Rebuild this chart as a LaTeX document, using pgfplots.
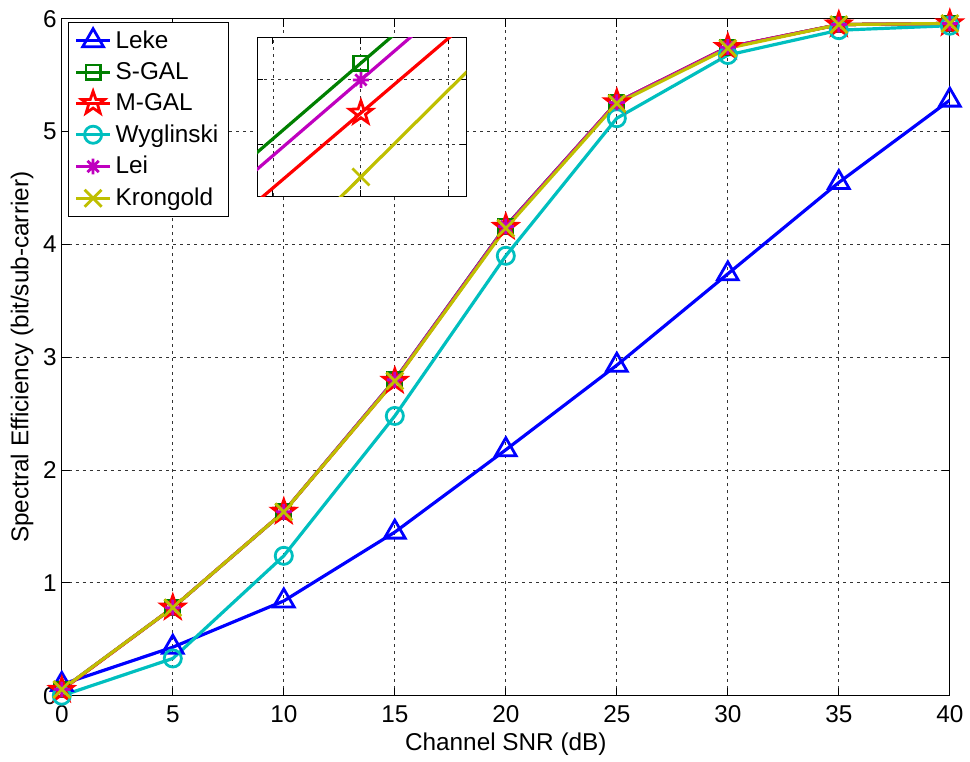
\documentclass[border=0pt]{standalone}
\usepackage{fontspec}
\setmainfont{Liberation Sans}
\usepackage{pgfplots}
\pgfplotsset{compat=1.18}
\usetikzlibrary{plotmarks}

\definecolor{mgreen}{rgb}{0,0.5,0}
\definecolor{mcyan}{rgb}{0,0.75,0.75}
\definecolor{mmag}{rgb}{0.75,0,0.75}
\definecolor{molive}{rgb}{0.75,0.75,0}

\pgfdeclareplotmark{pentagram}{%
  \pgfpathmoveto{\pgfpointpolar{90}{\pgfplotmarksize}}%
  \pgfpathlineto{\pgfpointpolar{126}{0.4\pgfplotmarksize}}%
  \pgfpathlineto{\pgfpointpolar{162}{\pgfplotmarksize}}%
  \pgfpathlineto{\pgfpointpolar{198}{0.4\pgfplotmarksize}}%
  \pgfpathlineto{\pgfpointpolar{234}{\pgfplotmarksize}}%
  \pgfpathlineto{\pgfpointpolar{270}{0.4\pgfplotmarksize}}%
  \pgfpathlineto{\pgfpointpolar{306}{\pgfplotmarksize}}%
  \pgfpathlineto{\pgfpointpolar{342}{0.4\pgfplotmarksize}}%
  \pgfpathlineto{\pgfpointpolar{18}{\pgfplotmarksize}}%
  \pgfpathlineto{\pgfpointpolar{54}{0.4\pgfplotmarksize}}%
  \pgfpathclose\pgfusepathqstroke}

\pgfdeclareplotmark{asterisk8}{%
  \pgfpathmoveto{\pgfqpoint{0pt}{\pgfplotmarksize}}%
  \pgfpathlineto{\pgfqpoint{0pt}{-\pgfplotmarksize}}%
  \pgfpathmoveto{\pgfqpoint{\pgfplotmarksize}{0pt}}%
  \pgfpathlineto{\pgfqpoint{-\pgfplotmarksize}{0pt}}%
  \pgfpathmoveto{\pgfqpoint{0.707\pgfplotmarksize}{0.707\pgfplotmarksize}}%
  \pgfpathlineto{\pgfqpoint{-0.707\pgfplotmarksize}{-0.707\pgfplotmarksize}}%
  \pgfpathmoveto{\pgfqpoint{0.707\pgfplotmarksize}{-0.707\pgfplotmarksize}}%
  \pgfpathlineto{\pgfqpoint{-0.707\pgfplotmarksize}{0.707\pgfplotmarksize}}%
  \pgfusepathqstroke}

\pgfplotsset{
  mstyle/.style={line width=1.6pt, mark options={solid, line width=1.4pt}},
  mgrid/.style={grid=major,
    grid style={black!80, line width=0.45pt, dash pattern=on 1.5pt off 2pt},
    axis line style={black, line width=0.5pt},
    tick align=inside,
    tick style={black, line width=0.5pt},
    axis background/.style={fill=white}},
}

\begin{document}
\begin{tikzpicture}
\begin{axis}[
  mgrid,
  at={(0pt,0pt)}, anchor=south west,
  scale only axis, width=445.5pt, height=339.5pt,
  xmin=0, xmax=40, ymin=0, ymax=6,
  xtick={0,5,...,40}, ytick={0,1,...,6},
  major tick length=4pt,
  xlabel={Channel SNR (dB)},
  ylabel={Spectral Efficiency (bit/sub-carrier)},
  label style={font=\fontsize{12.2}{14}\selectfont},
  tick label style={font=\fontsize{12.2}{14}\selectfont},
  /pgf/number format/assume math mode=true,
  xticklabel style={yshift=-1.5pt},
  yticklabel style={xshift=1pt},
  xlabel style={yshift=2pt},
  ylabel style={yshift=-2pt},
  legend style={at={(0.007,0.9956)}, anchor=north west, draw=black,
    line width=0.5pt, font=\fontsize{12.2}{14}\selectfont,
    inner xsep=3pt, inner ysep=2pt, row sep=1.6pt},
  legend cell align=left,
]
\addplot[mstyle, color=blue, mark=triangle, mark size=6pt] coordinates {
(0,0.10) (5,0.43) (10,0.84) (15,1.45) (20,2.18) (25,2.93) (30,3.74) (35,4.55) (40,5.28)};
\addlegendentry{Leke}
\addplot[mstyle, color=mgreen, mark=square, mark size=3.6pt] coordinates {
(0,0.055) (5,0.78) (10,1.63) (15,2.80) (20,4.163) (25,5.26) (30,5.75) (35,5.95) (40,5.96)};
\addlegendentry{S-GAL}
\addplot[mstyle, color=red, mark=pentagram, mark size=6pt] coordinates {
(0,0.05) (5,0.78) (10,1.63) (15,2.79) (20,4.155) (25,5.26) (30,5.75) (35,5.95) (40,5.96)};
\addlegendentry{M-GAL}
\addplot[mstyle, color=mcyan, mark=o, mark size=4.3pt] coordinates {
(0,0.0) (5,0.33) (10,1.24) (15,2.48) (20,3.90) (25,5.12) (30,5.68) (35,5.90) (40,5.94)};
\addlegendentry{Wyglinski}
\addplot[mstyle, color=mmag, mark=asterisk8, mark size=4pt] coordinates {
(0,0.055) (5,0.78) (10,1.63) (15,2.80) (20,4.160) (25,5.26) (30,5.75) (35,5.95) (40,5.96)};
\addlegendentry{Lei}
\addplot[mstyle, color=molive, mark=x, mark size=6pt] coordinates {
(0,0.055) (5,0.78) (10,1.63) (15,2.79) (20,4.145) (25,5.25) (30,5.74) (35,5.95) (40,5.96)};
\addlegendentry{Krongold}
\end{axis}

\begin{axis}[
  mgrid,
  at={(98pt,250.5pt)}, anchor=south west,
  scale only axis, width=105pt, height=79.5pt,
  xmin=19.882, xmax=20.12, ymin=4.142, ymax=4.1665,
  xtick={19.9,20,20.1}, ytick={4.15,4.16},
  xticklabels={}, yticklabels={},
  major tick length=3pt,
  scaled ticks=false,
]
\addplot[mstyle, color=mgreen, no marks] coordinates {
(19.7,4.1275) (20,4.1626) (20.3,4.1977)};
\addplot[mstyle, color=red, no marks] coordinates {
(19.7,4.1201) (20,4.1549) (20.3,4.1897)};
\addplot[mstyle, color=mmag, no marks] coordinates {
(19.7,4.1249) (20,4.1600) (20.3,4.1951)};
\addplot[mstyle, color=molive, no marks] coordinates {
(19.7,4.1045) (20,4.1450) (20.3,4.1855)};
\addplot[mstyle, color=mgreen, only marks, mark=square, mark size=3.6pt] coordinates {(20,4.1626)};
\addplot[mstyle, color=red, only marks, mark=pentagram, mark size=6pt] coordinates {(20,4.1549)};
\addplot[mstyle, color=mmag, only marks, mark=asterisk8, mark size=4pt] coordinates {(20,4.1600)};
\addplot[mstyle, color=molive, only marks, mark=x, mark size=6pt] coordinates {(20,4.1450)};
\end{axis}

\useasboundingbox (-31pt,-30.5pt) rectangle (454pt,349pt);
\end{tikzpicture}
\end{document}
